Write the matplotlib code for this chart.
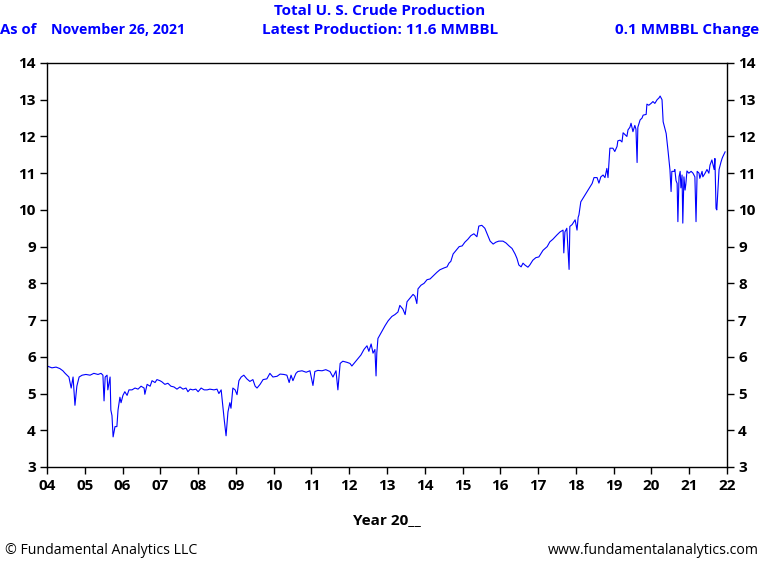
import matplotlib
matplotlib.use("Agg")
import matplotlib.pyplot as plt
from matplotlib.ticker import FixedLocator

# ---- data (decimal year, million barrels/day) ----
years = [
    2004.00, 2004.13, 2004.24, 2004.34, 2004.42, 2004.48, 2004.53, 2004.58, 2004.64, 2004.69,
    2004.74, 2004.79, 2004.85, 2004.93, 2005.03, 2005.14, 2005.24, 2005.35, 2005.43, 2005.48,
    2005.51, 2005.54, 2005.59, 2005.61, 2005.67, 2005.69, 2005.72, 2005.75, 2005.80, 2005.85,
    2005.88, 2005.93, 2005.96, 2006.01, 2006.06, 2006.12, 2006.17, 2006.25, 2006.33, 2006.41,
    2006.49, 2006.57, 2006.59, 2006.65, 2006.73, 2006.78, 2006.86, 2006.91, 2006.99, 2007.04,
    2007.12, 2007.20, 2007.28, 2007.36, 2007.44, 2007.52, 2007.60, 2007.68, 2007.73, 2007.79,
    2007.86, 2007.94, 2008.00, 2008.08, 2008.16, 2008.24, 2008.31, 2008.42, 2008.50, 2008.55,
    2008.61, 2008.63, 2008.69, 2008.74, 2008.79, 2008.84, 2008.87, 2008.92, 2008.98, 2009.03,
    2009.08, 2009.14, 2009.21, 2009.29, 2009.37, 2009.45, 2009.51, 2009.56, 2009.64, 2009.72,
    2009.82, 2009.90, 2009.98, 2010.09, 2010.17, 2010.27, 2010.35, 2010.41, 2010.46, 2010.51,
    2010.59, 2010.64, 2010.75, 2010.86, 2010.96, 2011.04, 2011.09, 2011.17, 2011.28, 2011.38,
    2011.49, 2011.57, 2011.65, 2011.70, 2011.76, 2011.83, 2011.94, 2012.02, 2012.07, 2012.15,
    2012.23, 2012.31, 2012.39, 2012.47, 2012.52, 2012.58, 2012.63, 2012.68, 2012.71, 2012.73,
    2012.76, 2012.87, 2012.95, 2013.03, 2013.13, 2013.21, 2013.29, 2013.34, 2013.42, 2013.48,
    2013.53, 2013.61, 2013.69, 2013.74, 2013.79, 2013.82, 2013.90, 2013.98, 2014.06, 2014.14,
    2014.22, 2014.32, 2014.40, 2014.51, 2014.59, 2014.64, 2014.69, 2014.75, 2014.83, 2014.91,
    2014.99, 2015.06, 2015.14, 2015.22, 2015.30, 2015.38, 2015.43, 2015.51, 2015.59, 2015.67,
    2015.73, 2015.81, 2015.88, 2015.96, 2016.07, 2016.15, 2016.23, 2016.31, 2016.39, 2016.44,
    2016.49, 2016.55, 2016.60, 2016.65, 2016.73, 2016.78, 2016.86, 2016.94, 2017.02, 2017.13,
    2017.24, 2017.31, 2017.39, 2017.50, 2017.58, 2017.66, 2017.68, 2017.71, 2017.76, 2017.82,
    2017.84, 2017.90, 2017.98, 2018.03, 2018.06, 2018.08, 2018.13, 2018.19, 2018.27, 2018.32,
    2018.37, 2018.43, 2018.48, 2018.56, 2018.61, 2018.66, 2018.72, 2018.77, 2018.82, 2018.85,
    2018.90, 2018.98, 2019.03, 2019.09, 2019.11, 2019.17, 2019.22, 2019.25, 2019.30, 2019.35,
    2019.38, 2019.43, 2019.46, 2019.51, 2019.56, 2019.59, 2019.62, 2019.64, 2019.70, 2019.75,
    2019.78, 2019.86, 2019.88, 2019.93, 2019.99, 2020.04, 2020.09, 2020.15, 2020.20, 2020.23,
    2020.28, 2020.31, 2020.36, 2020.39, 2020.44, 2020.49, 2020.52, 2020.54, 2020.60, 2020.62,
    2020.65, 2020.68, 2020.70, 2020.73, 2020.76, 2020.78, 2020.81, 2020.83, 2020.86, 2020.89,
    2020.91, 2020.94, 2020.99, 2021.05, 2021.10, 2021.15, 2021.18, 2021.21, 2021.26, 2021.28,
    2021.34, 2021.36, 2021.42, 2021.47, 2021.52, 2021.55, 2021.60, 2021.66, 2021.68, 2021.71,
    2021.73, 2021.79, 2021.84, 2021.87, 2021.89, 2021.95,
]
production = [
    5.75, 5.70, 5.72, 5.68, 5.62, 5.55, 5.50, 5.45, 5.15, 5.45,
    4.68, 5.20, 5.45, 5.50, 5.52, 5.50, 5.55, 5.52, 5.55, 5.50,
    4.80, 5.45, 5.50, 5.10, 5.45, 4.55, 4.40, 3.82, 4.10, 4.10,
    4.55, 4.90, 4.75, 4.95, 5.05, 4.95, 5.10, 5.10, 5.15, 5.12,
    5.20, 5.15, 4.98, 5.25, 5.20, 5.35, 5.30, 5.38, 5.35, 5.32,
    5.25, 5.28, 5.20, 5.18, 5.12, 5.18, 5.12, 5.15, 5.05, 5.12,
    5.10, 5.12, 5.05, 5.15, 5.10, 5.10, 5.12, 5.10, 5.12, 5.00,
    5.10, 4.90, 4.30, 3.85, 4.50, 4.75, 4.60, 5.15, 5.10, 4.97,
    5.35, 5.45, 5.50, 5.40, 5.33, 5.38, 5.20, 5.15, 5.25, 5.38,
    5.40, 5.55, 5.45, 5.47, 5.53, 5.52, 5.50, 5.30, 5.50, 5.35,
    5.55, 5.60, 5.62, 5.58, 5.62, 5.22, 5.60, 5.63, 5.62, 5.65,
    5.60, 5.45, 5.62, 5.10, 5.82, 5.88, 5.85, 5.82, 5.75, 5.85,
    5.95, 6.05, 6.20, 6.30, 6.15, 6.35, 6.10, 6.20, 5.48, 6.10,
    6.50, 6.70, 6.85, 6.98, 7.10, 7.15, 7.22, 7.40, 7.30, 7.15,
    7.50, 7.60, 7.70, 7.65, 7.45, 7.85, 7.95, 8.00, 8.10, 8.12,
    8.20, 8.30, 8.37, 8.42, 8.45, 8.55, 8.60, 8.80, 8.90, 9.00,
    9.02, 9.12, 9.20, 9.30, 9.35, 9.27, 9.56, 9.58, 9.50, 9.30,
    9.15, 9.07, 9.12, 9.15, 9.15, 9.10, 9.02, 8.95, 8.80, 8.68,
    8.50, 8.45, 8.55, 8.50, 8.44, 8.50, 8.63, 8.70, 8.72, 8.90,
    9.00, 9.13, 9.20, 9.32, 9.40, 9.45, 8.83, 9.40, 9.50, 8.38,
    9.55, 9.60, 9.73, 9.45, 9.80, 9.86, 10.22, 10.32, 10.45, 10.54,
    10.62, 10.72, 10.88, 10.88, 10.73, 10.90, 10.95, 10.88, 11.13, 10.88,
    11.68, 11.68, 11.59, 11.73, 11.88, 11.90, 11.85, 12.10, 12.05, 12.00,
    12.18, 12.25, 12.36, 12.13, 12.30, 12.20, 11.29, 12.25, 12.45, 12.50,
    12.58, 12.60, 12.88, 12.85, 12.90, 12.95, 12.90, 13.00, 13.05, 13.10,
    13.00, 12.40, 12.20, 12.08, 11.60, 11.09, 10.50, 11.05, 11.05, 11.10,
    10.80, 10.72, 9.68, 10.90, 11.05, 10.60, 10.95, 9.64, 10.90, 10.54,
    10.70, 11.06, 11.00, 11.05, 11.00, 10.90, 9.68, 11.05, 11.00, 10.86,
    11.05, 10.90, 11.00, 11.10, 11.00, 11.22, 11.36, 11.10, 11.40, 10.04,
    10.00, 11.10, 11.30, 11.40, 11.45, 11.58,
]

x_ticks = list(range(2004, 2023))
x_labels = [f"{y % 100:02d}" for y in x_ticks]
y_ticks = list(range(3, 15))

title1 = "Total U. S. Crude Production"
title2 = "Latest Production: 11.6 MMBBL"
as_of = "As of"
date_txt = "November 26, 2021"
change_txt = "0.1 MMBBL Change"
xlabel = "Year 20__"
left_foot = "\u00a9 Fundamental Analytics LLC"
right_foot = "www.fundamentalanalytics.com"

plt.rcParams['font.family'] = ['Open Sans', 'DejaVu Sans']
BLUE = '#0000ff'

fig = plt.figure(figsize=(7.61, 5.61), dpi=100)
ax = fig.add_axes([47/761, 1-467/561, (727-47)/761, (467-63)/561])
ax.plot(years, production, color=BLUE, lw=0.8)
ax.set_xlim(2004, 2022)
ax.set_ylim(3, 14)
ax.xaxis.set_major_locator(FixedLocator(x_ticks))
ax.set_xticklabels(x_labels, fontsize=11, fontweight='bold')
ax.set_yticks(y_ticks)
ax.set_yticklabels([str(v) for v in y_ticks], fontsize=11, fontweight='bold')
ax.tick_params(axis='y', which='both', left=True, right=True, labelleft=True,
               labelright=True, direction='out', length=5, width=1, pad=3)
ax.tick_params(axis='x', direction='out', length=5, width=1, pad=4)
for s in ax.spines.values():
    s.set_linewidth(1)
ax.set_xlabel(xlabel, fontsize=11, fontweight='bold', labelpad=14)

fig.text(380/761, 1-11/561, title1, ha='center', va='center', color=BLUE, fontsize=11, fontweight='bold')
fig.text(380/761, 1-30/561, title2, ha='center', va='center', color=BLUE, fontsize=11, fontweight='bold')
fig.text(0/761, 1-30/561, as_of, ha='left', va='center', color=BLUE, fontsize=10.7, fontweight='bold')
fig.text(51/761, 1-30/561, date_txt, ha='left', va='center', color=BLUE, fontsize=10.2, fontweight='bold')
fig.text(759/761, 1-30/561, change_txt, ha='right', va='center', color=BLUE, fontsize=11, fontweight='bold')
fig.text(5/761, 1-551/561, left_foot, ha='left', va='center', color='black', fontsize=10.2)
fig.text(759/761, 1-551/561, right_foot, ha='right', va='center', color='black', fontsize=10.2)

fig.savefig("out.png", dpi=100)
